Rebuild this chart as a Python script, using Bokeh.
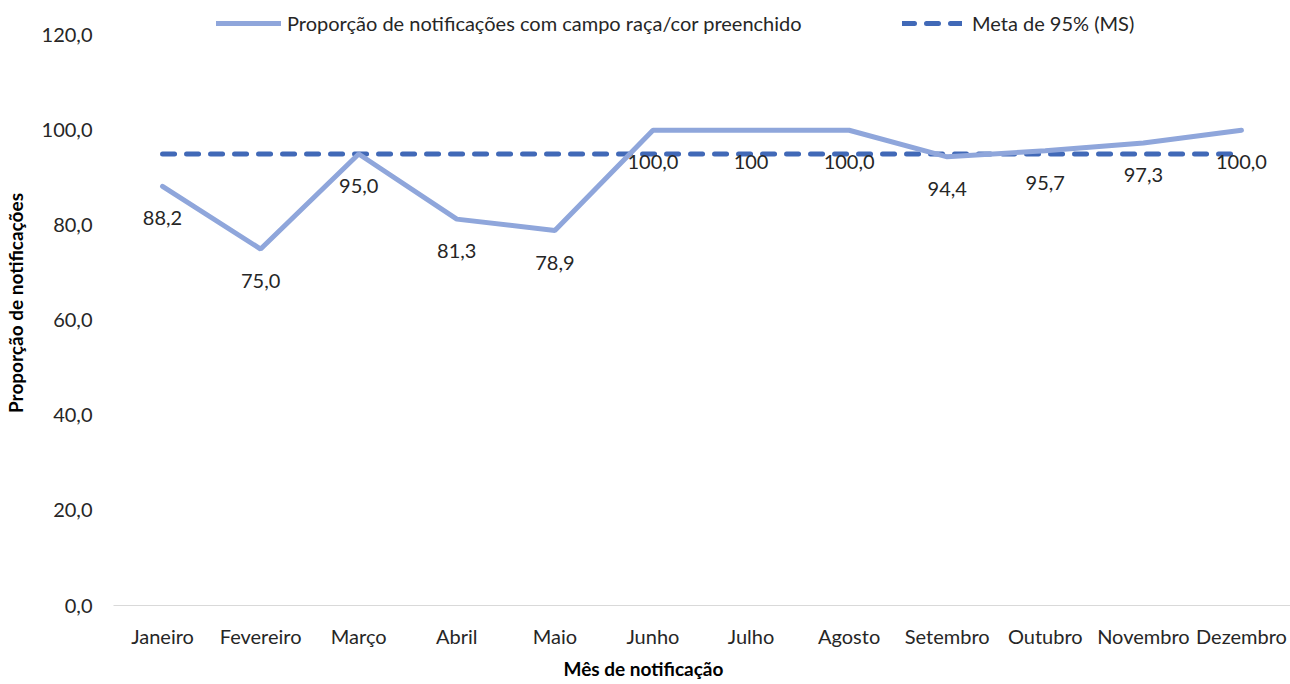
from bokeh.plotting import figure
from bokeh.models import (FixedTicker, Range1d, FactorRange, Legend, LegendItem, Title, ColumnDataSource)
from bokeh.core.properties import value
from bokeh.embed import file_html
from bokeh.resources import INLINE

months = ["Janeiro", "Fevereiro", "Março", "Abril", "Maio", "Junho", "Julho",
          "Agosto", "Setembro", "Outubro", "Novembro", "Dezembro"]
proporcao = [88.2, 75.0, 95.0, 81.3, 78.9, 100.0, 100.0, 100.0, 94.4, 95.7, 97.3, 100.0]
rotulos = ["88,2", "75,0", "95,0", "81,3", "78,9", "100,0", "100", "100,0",
           "94,4", "95,7", "97,3", "100,0"]
meta = [95.0] * 12
y_ticks = [0, 20, 40, 60, 80, 100, 120]
y_tick_labels = ["0,0", "20,0", "40,0", "60,0", "80,0", "100,0", "120,0"]

FONT = "Lato"
LIGHT = "#8FA6DB"
DARK = "#4169B7"
TXT = "#262626"
FS = "20px"

src = ColumnDataSource(dict(x=months, y=proporcao, lab=rotulos, meta=meta))

p = figure(width=1290, height=684, output_backend="svg", toolbar_location=None,
           x_range=FactorRange(*months, range_padding=0),
           y_range=Range1d(0, 127.3),
           min_border_left=113, min_border_right=0, min_border_top=0, min_border_bottom=78)
p.outline_line_color = None
p.grid.grid_line_color = None
p.background_fill_color = "white"

r_meta = p.line("x", "meta", source=src, line_color=DARK, line_width=5,
                line_dash="12 12", line_cap="round")
r_prop = p.line("x", "y", source=src, line_color=LIGHT, line_width=5, line_cap="round")

p.text("x", "y", text="lab", source=src, y_offset=32, text_align="center",
       text_baseline="middle", text_font=value(FONT), text_font_size=FS,
       text_color=TXT)

# y axis
p.yaxis.ticker = FixedTicker(ticks=y_ticks)
p.yaxis.major_label_overrides = {t: l for t, l in zip(y_ticks, y_tick_labels)}
p.yaxis.axis_line_color = None
p.yaxis.major_tick_line_color = None
p.yaxis.minor_tick_line_color = None
p.yaxis.major_label_standoff = 15
p.yaxis.major_label_text_font = FONT
p.yaxis.major_label_text_font_size = FS
p.yaxis.major_label_text_color = TXT
p.yaxis.axis_label = "Proporção de notificações"
p.yaxis.axis_label_text_font = FONT
p.yaxis.axis_label_text_font_size = "19px"
p.yaxis.axis_label_text_font_style = "bold"
p.yaxis.axis_label_text_color = "#000000"
p.yaxis.axis_label_standoff = 12

# x axis
p.xaxis.axis_line_color = "#D9D9D9"
p.xaxis.axis_line_width = 1
p.xaxis.major_tick_line_color = None
p.xaxis.minor_tick_line_color = None
p.xaxis.major_label_standoff = 12
p.xaxis.major_label_text_font = FONT
p.xaxis.major_label_text_font_size = FS
p.xaxis.major_label_text_color = TXT
p.xaxis.major_label_orientation = "horizontal"

xt = Title(text="Mês de notificação", align="left", offset=450, standoff=9,
           text_font=FONT, text_font_size="19px", text_font_style="bold",
           text_color="#000000")
p.add_layout(xt, "below")

leg1 = Legend(items=[LegendItem(label="Proporção de notificações com campo raça/cor preenchido",
                                renderers=[r_prop])],
              location=(103, 570), orientation="horizontal",
              glyph_width=65, label_standoff=6, padding=4, margin=0,
              background_fill_alpha=0, border_line_color=None,
              label_text_font=FONT, label_text_font_size=FS, label_text_color=TXT)
leg2 = Legend(items=[LegendItem(label="Meta de 95% (MS)", renderers=[r_meta])],
              location=(789, 570), orientation="horizontal",
              glyph_width=60, label_standoff=10, padding=4, margin=0,
              background_fill_alpha=0, border_line_color=None,
              label_text_font=FONT, label_text_font_size=FS, label_text_color=TXT)
p.add_layout(leg1)
p.add_layout(leg2)

open("out.html", "w").write(file_html(p, INLINE))
